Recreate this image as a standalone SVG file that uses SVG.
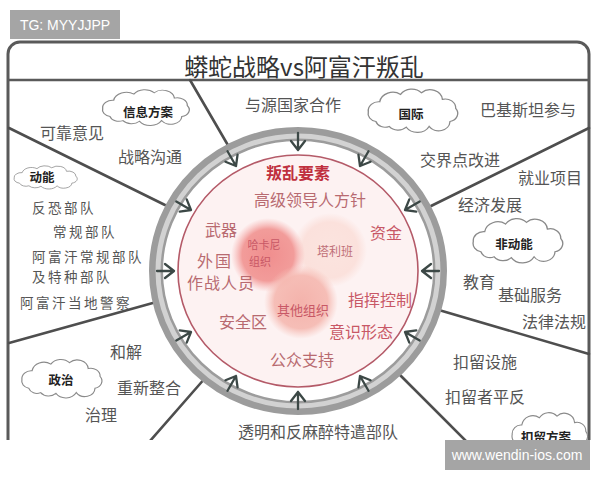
<svg xmlns="http://www.w3.org/2000/svg" xmlns:xlink="http://www.w3.org/1999/xlink" width="600" height="480" viewBox="0 0 600 480">
<style>
.cjk{font-family:"Noto Sans CJK SC","Noto Sans",sans-serif}
.lbl{font-size:16px;fill:#555}
.lbs{font-size:13.5px;letter-spacing:2.5px;fill:#555}
.in{font-size:16px;fill:#b86a70}
.inr{font-size:16px;fill:#c85866}
.cl{font-size:12.5px;font-weight:bold;fill:#222;text-anchor:middle}
.conn{stroke:#4e4e4e;stroke-width:2.6;stroke-linecap:round;fill:none}
.cloud{fill:#fff;stroke:#8a8a8a;stroke-width:1.4}
.arr{fill:none;stroke:#3c4846;stroke-width:2.3;stroke-linecap:round;stroke-linejoin:round}
.wm{fill:#a5a5a5}
.wmt{font-family:"Liberation Sans",Arial,sans-serif;fill:#fff;font-size:14px;text-anchor:middle}
</style>
<defs>
<clipPath id="clip"><rect x="0" y="0" width="600" height="440"/></clipPath>
<path id="cloudShape" d="M-38,14 A10,10 0 0 1 -46,2 A11,11 0 0 1 -34,-10 A14,14 0 0 1 -12,-19 A14,14 0 0 1 10,-21 A13,13 0 0 1 32,-13 A11,11 0 0 1 46,-2 A10,10 0 0 1 40,14 A12,12 0 0 1 18,20 A14,14 0 0 1 -6,21 A12,12 0 0 1 -24,20 A10,10 0 0 1 -38,14 Z"/>
<path id="arrow" d="M-17,0 L0,0 M-9,-7 L0,0 L-9,7"/>
<radialGradient id="gHak"><stop offset="0" stop-color="#f08e8e"/><stop offset="0.7" stop-color="#f29c9a"/><stop offset="1" stop-color="#f6b0ae" stop-opacity="0"/></radialGradient>
<radialGradient id="gTal"><stop offset="0" stop-color="#fbe4df"/><stop offset="0.75" stop-color="#fbe1dc"/><stop offset="1" stop-color="#fbe1dc" stop-opacity="0"/></radialGradient>
<radialGradient id="gOth"><stop offset="0" stop-color="#f3aca4"/><stop offset="0.72" stop-color="#f5b8b0"/><stop offset="1" stop-color="#f7c4bc" stop-opacity="0"/></radialGradient>
</defs>
<rect width="600" height="480" fill="#fff"/>
<g clip-path="url(#clip)">
<g id="frame">
<rect x="8" y="42" width="581" height="440" rx="12" fill="#fff" stroke="#5a5a5a" stroke-width="3"/>
<line x1="8" y1="80" x2="589" y2="80" stroke="#5a5a5a" stroke-width="2.5"/>
</g>
<g id="title"><text class="cjk" x="304" y="76" font-size="24" fill="#333" text-anchor="middle">蟒蛇战略vs阿富汗叛乱</text></g>
<g id="connectors">
<line class="conn" x1="190" y1="80" x2="229" y2="147"/>
<line class="conn" x1="589" y1="128" x2="431" y2="206"/>
<line class="conn" x1="9" y1="128" x2="165" y2="205"/>
<line class="conn" x1="9" y1="343" x2="160" y2="301"/>
<line class="conn" x1="206" y1="377" x2="150" y2="441"/>
<line class="conn" x1="399" y1="374" x2="466" y2="441"/>
<line class="conn" x1="432" y1="308" x2="589" y2="354"/>
</g>
<g id="ring">
<ellipse cx="298" cy="271" rx="142" ry="137" fill="#fff" stroke="#9c9c9c" stroke-width="14"/>
<ellipse cx="298" cy="271" rx="140" ry="135" fill="none" stroke="#d2d2d2" stroke-width="5"/>
<ellipse cx="298" cy="271" rx="120" ry="116" fill="#fdf2f2" stroke="#b45a68" stroke-width="1.6"/>
</g>
<g id="arrows">
<use href="#arrow" class="arr" transform="translate(298,150) rotate(90)"/>
<use href="#arrow" class="arr" transform="translate(360,166) rotate(120)"/>
<use href="#arrow" class="arr" transform="translate(405,210) rotate(150)"/>
<use href="#arrow" class="arr" transform="translate(422,271) rotate(180)"/>
<use href="#arrow" class="arr" transform="translate(405,332) rotate(210)"/>
<use href="#arrow" class="arr" transform="translate(360,376) rotate(240)"/>
<use href="#arrow" class="arr" transform="translate(298,392) rotate(270)"/>
<use href="#arrow" class="arr" transform="translate(236,376) rotate(300)"/>
<use href="#arrow" class="arr" transform="translate(191,332) rotate(330)"/>
<use href="#arrow" class="arr" transform="translate(174,271) rotate(0)"/>
<use href="#arrow" class="arr" transform="translate(191,210) rotate(30)"/>
<use href="#arrow" class="arr" transform="translate(236,166) rotate(60)"/>
</g>
<g id="core">
<circle cx="330" cy="250" r="37" fill="url(#gTal)"/>
<circle cx="268" cy="255" r="37" fill="url(#gHak)"/>
<circle cx="301" cy="302" r="37" fill="url(#gOth)" opacity="0.9"/>
<text class="cjk" x="298" y="179" font-size="16" font-weight="bold" fill="#c0303e" text-anchor="middle">叛乱要素</text>
<text class="cjk in" x="310" y="206" text-anchor="middle">高级领导人方针</text>
<text class="cjk in" x="221" y="236" text-anchor="middle">武器</text>
<text class="cjk inr" x="386" y="239" text-anchor="middle">资金</text>
<text class="cjk" x="264" y="249" font-size="11" fill="#c85866" text-anchor="middle">哈卡尼</text>
<text class="cjk" x="260" y="266" font-size="11" fill="#c85866" text-anchor="middle">组织</text>
<text class="cjk" x="335" y="256" font-size="12" fill="#c07078" text-anchor="middle">塔利班</text>
<text class="cjk in" x="197" y="267" font-size="13" letter-spacing="2">外国</text>
<text class="cjk in" x="187" y="289" font-size="13" letter-spacing="1">作战人员</text>
<text class="cjk inr" x="380" y="306" text-anchor="middle">指挥控制</text>
<text class="cjk" x="303" y="315" font-size="13" fill="#c85866" text-anchor="middle">其他组织</text>
<text class="cjk in" x="243" y="328" text-anchor="middle">安全区</text>
<text class="cjk inr" x="361" y="338" text-anchor="middle">意识形态</text>
<text class="cjk in" x="302" y="366" text-anchor="middle">公众支持</text>
</g>
<g id="cloud-info"><use href="#cloudShape" class="cloud" transform="translate(145,107) scale(0.92,0.68)"/><text class="cjk cl" x="148" y="117">信息方案</text></g>
<g id="cloud-intl"><use href="#cloudShape" class="cloud" transform="translate(412,110) scale(0.95,0.82)"/><text class="cjk cl" x="411" y="119">国际</text></g>
<g id="cloud-kinetic"><use href="#cloudShape" class="cloud" transform="translate(45,177) scale(0.67,0.44)"/><text class="cjk cl" x="42" y="182" font-size="11">动能</text></g>
<g id="cloud-nonkinetic"><use href="#cloudShape" class="cloud" transform="translate(517,240) scale(0.95,0.84)"/><text class="cjk cl" x="514" y="249">非动能</text></g>
<g id="cloud-politics"><use href="#cloudShape" class="cloud" transform="translate(61,378) scale(0.85,0.73)"/><text class="cjk cl" x="61" y="385">政治</text></g>
<g id="cloud-detention"><use href="#cloudShape" class="cloud" transform="translate(549,433) scale(0.8,0.8)"/><text class="cjk cl" x="546" y="442">扣留方案</text></g>
<g id="labels">
<text class="cjk lbl" x="40" y="139">可靠意见</text>
<text class="cjk lbl" x="118" y="163">战略沟通</text>
<text class="cjk lbl" x="245" y="111">与源国家合作</text>
<text class="cjk lbl" x="480" y="116">巴基斯坦参与</text>
<text class="cjk lbl" x="420" y="166">交界点改进</text>
<text class="cjk lbl" x="518" y="184">就业项目</text>
<text class="cjk lbl" x="458" y="211">经济发展</text>
<text class="cjk lbl" x="463" y="288">教育</text>
<text class="cjk lbl" x="498" y="301">基础服务</text>
<text class="cjk lbl" x="522" y="328">法律法规</text>
<text class="cjk lbl" x="453" y="368">扣留设施</text>
<text class="cjk lbl" x="445" y="403">扣留者平反</text>
<text class="cjk lbl" x="238" y="438" font-size="17">透明和反麻醉特遣部队</text>
<text class="cjk lbl" x="110" y="358">和解</text>
<text class="cjk lbl" x="117" y="394">重新整合</text>
<text class="cjk lbl" x="85" y="421">治理</text>
<text class="cjk lbs" x="32" y="213">反恐部队</text>
<text class="cjk lbs" x="53" y="237">常规部队</text>
<text class="cjk lbs" x="32" y="262">阿富汗常规部队</text>
<text class="cjk lbs" x="32" y="282">及特种部队</text>
<text class="cjk lbs" x="20" y="308">阿富汗当地警察</text>
</g>
</g>
<g id="tag"><rect class="wm" x="10" y="10" width="110" height="29"/><text class="wmt" x="65" y="30">TG: MYYJJPP</text></g>
<g id="watermark"><rect class="wm" x="445" y="440" width="145" height="30"/><text class="wmt" x="517" y="460" font-size="13.5">www.wendin-ios.com</text></g>
</svg>
